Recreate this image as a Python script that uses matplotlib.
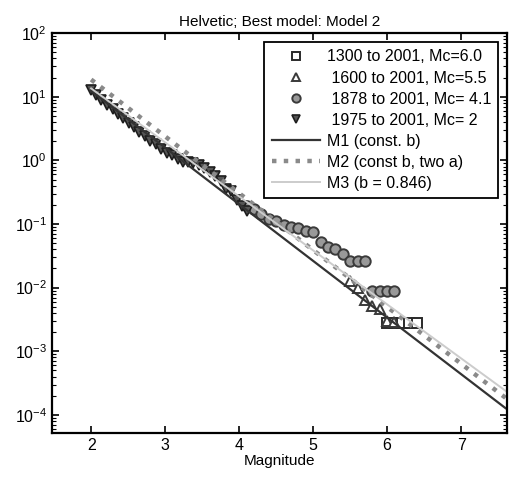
import matplotlib
matplotlib.use("Agg")
import matplotlib.pyplot as plt
from matplotlib.ticker import LogLocator, NullFormatter

plt.rcParams['font.family'] = ['Liberation Sans', 'DejaVu Sans']
plt.rcParams['mathtext.fontset'] = 'custom'
plt.rcParams['mathtext.rm'] = 'Liberation Sans'
plt.rcParams['mathtext.it'] = 'Liberation Sans'
plt.rcParams['mathtext.default'] = 'regular'

# Cumulative annual rates per catalogue period
mag_1300 = [6.0, 6.1, 6.2, 6.3, 6.4]
rate_1300 = [0.0028, 0.0028, 0.0028, 0.0028, 0.0028]

mag_1600 = [5.5, 5.6, 5.7, 5.8, 5.9, 6.0, 6.1]
rate_1600 = [0.0126, 0.0098, 0.0065, 0.0052, 0.0047, 0.0030, 0.0029]

mag_1878 = [4.1, 4.2, 4.3, 4.4, 4.5, 4.6, 4.7, 4.8, 4.9, 5.0, 5.1,
            5.2, 5.3, 5.4, 5.5, 5.6, 5.7, 5.8, 5.9, 6.0, 6.1]
rate_1878 = [0.19, 0.17, 0.145, 0.12, 0.11, 0.098, 0.091, 0.085, 0.079, 0.076, 0.053,
             0.044, 0.040, 0.034, 0.026, 0.026, 0.026, 0.0087, 0.0087, 0.0087, 0.0087]

mag_1975 = [2.00, 2.07, 2.14, 2.22, 2.29, 2.36, 2.43, 2.51, 2.58, 2.65,
            2.73, 2.80, 2.87, 2.95, 3.02, 3.09, 3.17, 3.24, 3.31, 3.38,
            3.46, 3.53, 3.60, 3.68, 3.75, 3.82, 3.89, 3.97, 4.04, 4.11]
rate_1975 = [12.6, 10.5, 8.9, 7.4, 6.3, 5.4, 4.7, 3.9, 3.3, 2.8,
             2.4, 2.0, 1.8, 1.5, 1.3, 1.2, 1.05, 0.95, 0.93, 0.91,
             0.83, 0.76, 0.66, 0.56, 0.47, 0.36, 0.33, 0.24, 0.19, 0.16]

# Model fits, end points over the plotted magnitude range
model_mag = [2.0, 7.6]
m1_rate = [12.3, 1.28e-4]
m2_rate = [18.6, 1.86e-4]
m3_rate = [13.5, 2.4e-4]

fig = plt.figure(figsize=(5.09, 4.79), dpi=100)
ax = fig.add_axes([0.102, 0.096, 0.894, 0.835])

ax.plot(mag_1300, rate_1300, 's', ms=6.5, mfc='white', mec='#2a2a2a', mew=1.4,
        label='1300 to 2001, Mc=6.0')
ax.plot(mag_1600, rate_1600, '^', ms=7, mfc='white', mec='#3a3a3a', mew=1.4,
        label=' 1600 to 2001, Mc=5.5')
ax.plot(mag_1878, rate_1878, 'o', ms=7.5, mfc='#999999', mec='#3a3a3a', mew=1.4,
        label=' 1878 to 2001, Mc= 4.1')
ax.plot(mag_1975, rate_1975, 'v', ms=7.5, mfc='#555555', mec='#1e1e1e', mew=1.2,
        label=' 1975 to 2001, Mc= 2')

ax.plot(model_mag, m1_rate, '-', color='#333333', lw=1.6, label='M1 (const. b)')
ax.plot(model_mag, m2_rate, ':', color='#8a8a8a', lw=3.2, label='M2 (const b, two a)')
ax.plot(model_mag, m3_rate, '-', color='#cccccc', lw=1.4, label='M3 (b = 0.846)')

ax.set_yscale('log')
ax.set_xlim(1.47, 7.62)
ax.set_ylim(5.2e-5, 100)
ax.set_xticks([2, 3, 4, 5, 6, 7])
ax.yaxis.set_major_locator(LogLocator(base=10, numticks=10))
ax.yaxis.set_minor_locator(LogLocator(base=10, subs=range(2, 10), numticks=10))
ax.yaxis.set_minor_formatter(NullFormatter())
ax.yaxis.get_offset_text().set_visible(False)
ax.xaxis.get_offset_text().set_visible(False)

ax.tick_params(which='both', direction='in', top=True, right=True, labelsize=11.5)
ax.tick_params(which='major', length=5, width=1.2)
ax.tick_params(which='minor', length=3, width=0.8)
for s in ax.spines.values():
    s.set_linewidth(1.6)

ax.set_title('Helvetic; Best model: Model 2', fontsize=11, pad=5)
ax.set_xlabel('Magnitude', fontsize=11, labelpad=1)

leg = ax.legend(loc='upper right', bbox_to_anchor=(0.988, 0.985), fontsize=11.5,
                frameon=True, fancybox=False, edgecolor='black', framealpha=1,
                handlelength=3.0, borderpad=0.45, labelspacing=0.38, handletextpad=0.45,
                borderaxespad=0.2, markerscale=0.8)
leg.get_frame().set_linewidth(1.3)

fig.savefig('out.png', dpi=100)
